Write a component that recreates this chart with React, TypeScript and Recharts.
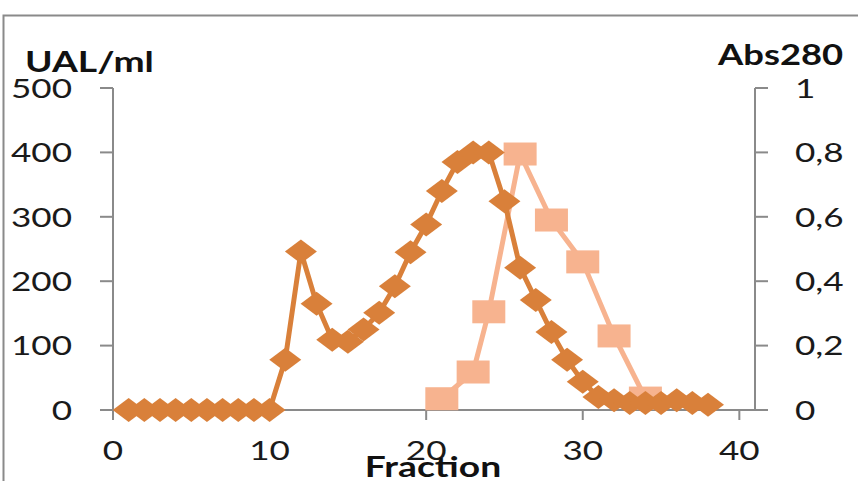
// Elution profile: UAL/ml (left) and Abs280 (right) per fraction

import React from 'react'
import { LineChart, Line, XAxis, YAxis } from 'recharts'

const ualFractions = [1, 2, 3, 4, 5, 6, 7, 8, 9, 10, 11, 12, 13, 14, 15, 16, 17, 18, 19, 20, 21, 22, 23, 24, 25, 26, 27, 28, 29, 30, 31, 32, 33, 34, 35, 36, 37, 38]
const ualValues = [0, 0, 0, 0, 0, 0, 0, 0, 0, 0, 78, 246, 165, 109, 106, 125, 151, 192, 245, 288, 340, 385, 400, 400, 324, 221, 171, 121, 78, 44, 20, 15, 11, 11, 11, 15, 11, 8]

const absFractions = [21, 23, 24, 26, 28, 30, 32, 34]
const absValues = [0.035, 0.118, 0.305, 0.795, 0.59, 0.46, 0.23, 0.037]

const xTicks = [0, 10, 20, 30, 40]
const leftTicks = [0, 100, 200, 300, 400, 500]
const rightTicks = [0, 0.2, 0.4, 0.6, 0.8, 1]

const ualData = ualFractions.map((f, i) => ({ fraction: f, ual: ualValues[i] }))
const absData = absFractions.map((f, i) => ({ fraction: f, abs: absValues[i] }))

const DARK = '#D9803A'
const PALE = '#F7B38F'
const AXIS = '#8a8a8a'
const FONT = 'Lato, "Open Sans", sans-serif'
const STRETCH = 1.3

const LeftTick = (props: any) => {
  const { y, payload } = props
  return (
    <g transform={`translate(72,${y}) scale(${STRETCH},1)`}>
      <text textAnchor="end" dy="0.36em" fontFamily={FONT} fontSize={27} fill="#1a1a1a">{payload.value}</text>
    </g>
  )
}

const RightTick = (props: any) => {
  const { y, payload } = props
  const label = String(payload.value).replace('.', ',')
  return (
    <g transform={`translate(795,${y}) scale(${STRETCH},1)`}>
      <text textAnchor="start" dy="0.36em" fontFamily={FONT} fontSize={27} fill="#1a1a1a">{label}</text>
    </g>
  )
}

const BottomTick = (props: any) => {
  const { x, payload } = props
  return (
    <g transform={`translate(${x},450) scale(${STRETCH},1)`}>
      <text textAnchor="middle" dy="0.36em" fontFamily={FONT} fontSize={27} fill="#1a1a1a">{payload.value}</text>
    </g>
  )
}

const Diamond = (props: any) => {
  const { cx, cy, index } = props
  if (cx == null || cy == null) return <g key={index} />
  return (
    <polygon
      key={index}
      points={`${cx - 16},${cy} ${cx},${cy - 12} ${cx + 16},${cy} ${cx},${cy + 12}`}
      fill={DARK}
    />
  )
}

const Square = (props: any) => {
  const { cx, cy, index } = props
  if (cx == null || cy == null) return <g key={index} />
  return <rect key={index} x={cx - 16.5} y={cy - 11.5} width={33} height={23} fill={PALE} />
}

export default function App() {
  return (
    <div style={{ position: 'absolute', left: 0, top: 0, width: 858, height: 481, background: '#fff', overflow: 'hidden' }}>
      <LineChart width={858} height={481} margin={{ top: 88, right: 0, bottom: 0, left: 0 }}>
        <XAxis
          dataKey="fraction"
          type="number"
          domain={[0, 41]}
          ticks={xTicks}
          height={71}
          tickSize={10}
          stroke={AXIS}
          strokeWidth={2}
          tick={BottomTick}
          allowDuplicatedCategory={false}
        />
        <YAxis
          yAxisId="left"
          domain={[0, 500]}
          ticks={leftTicks}
          width={113}
          tickSize={13}
          stroke={AXIS}
          strokeWidth={2}
          tick={LeftTick}
        />
        <YAxis
          yAxisId="right"
          orientation="right"
          domain={[0, 1]}
          ticks={rightTicks}
          width={103}
          tickSize={13}
          stroke={AXIS}
          strokeWidth={2}
          tick={RightTick}
        />
        <Line
          yAxisId="right"
          data={absData}
          dataKey="abs"
          type="linear"
          stroke={PALE}
          strokeWidth={5}
          dot={Square}
          activeDot={false}
          isAnimationActive={false}
        />
        <Line
          yAxisId="left"
          data={ualData}
          dataKey="ual"
          type="linear"
          stroke={DARK}
          strokeWidth={5}
          dot={Diamond}
          activeDot={false}
          isAnimationActive={false}
        />
      </LineChart>
      <svg width={858} height={481} style={{ position: 'absolute', left: 0, top: 0, pointerEvents: 'none' }}>
        <rect x={3.5} y={15.5} width={900} height={520} fill="none" stroke={AXIS} strokeWidth={2} />
        <g transform={`translate(25,72) scale(1.33,1)`}>
          <text fontFamily={FONT} fontWeight="bold" fontSize={28} fill="#111">UAL/ml</text>
        </g>
        <g transform={`translate(718,65) scale(1.3,1)`}>
          <text fontFamily={FONT} fontWeight="bold" fontSize={28} fill="#111">Abs280</text>
        </g>
        <g transform={`translate(433,477) scale(1.33,1)`}>
          <text textAnchor="middle" fontFamily={FONT} fontWeight="bold" fontSize={28} fill="#111">Fraction</text>
        </g>
      </svg>
    </div>
  )
}
